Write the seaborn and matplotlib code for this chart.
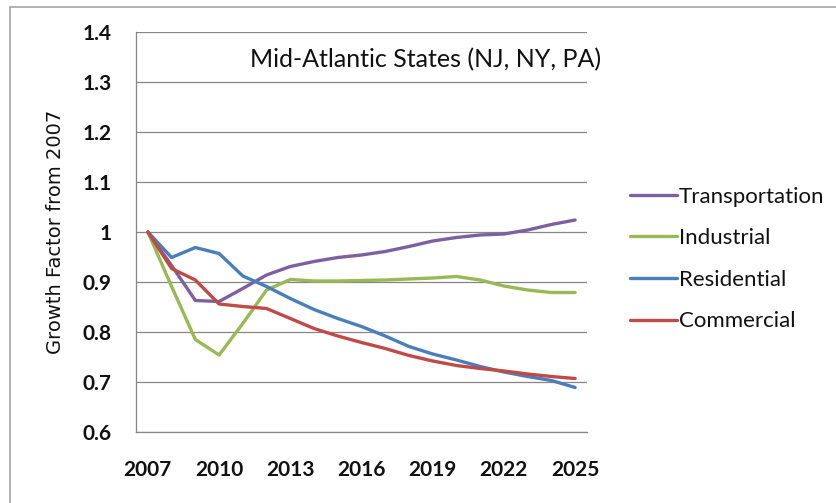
import matplotlib
matplotlib.use("Agg")
import matplotlib.pyplot as plt
from matplotlib.lines import Line2D
import seaborn as sns
import pandas as pd

# growth factor relative to 2007
years = list(range(2007, 2026))
transportation = [1.0, 0.933, 0.863, 0.861, 0.887, 0.914, 0.931, 0.941, 0.949, 0.954,
                  0.961, 0.971, 0.982, 0.989, 0.994, 0.996, 1.004, 1.015, 1.024]
industrial = [1.0, 0.891, 0.785, 0.754, 0.817, 0.884, 0.905, 0.902, 0.902, 0.903,
              0.904, 0.906, 0.908, 0.911, 0.904, 0.892, 0.884, 0.879, 0.879]
residential = [1.0, 0.949, 0.969, 0.957, 0.912, 0.891, 0.867, 0.845, 0.827, 0.811,
               0.792, 0.771, 0.756, 0.744, 0.731, 0.720, 0.711, 0.703, 0.689]
commercial = [1.0, 0.927, 0.904, 0.856, 0.851, 0.847, 0.827, 0.807, 0.792, 0.779,
              0.767, 0.753, 0.742, 0.733, 0.727, 0.722, 0.716, 0.711, 0.707]

sectors = ["Transportation", "Industrial", "Residential", "Commercial"]
colors = ["#7D60A0", "#98B954", "#4A7EBB", "#BE4B48"]
y_ticks = [0.6, 0.7, 0.8, 0.9, 1.0, 1.1, 1.2, 1.3, 1.4]
y_labels = ["0.6", "0.7", "0.8", "0.9", "1", "1.1", "1.2", "1.3", "1.4"]
x_labels = [2007, 2010, 2013, 2016, 2019, 2022, 2025]

df = pd.DataFrame({
    "year": years * 4,
    "value": transportation + industrial + residential + commercial,
    "sector": [s for s in sectors for _ in years],
})

sns.set_style("white")
plt.rcParams["font.family"] = ["Lato", "DejaVu Sans"]

fig = plt.figure(figsize=(8.36, 5.03), dpi=100)
ax = fig.add_axes([136 / 836, 71 / 503, 451 / 836, 400 / 503])

sns.lineplot(data=df, x="year", y="value", hue="sector", hue_order=sectors,
             palette=colors, linewidth=2.4, legend=False, ax=ax)

grid_col = "#868686"
ax.set_xlim(2006.5, 2025.5)
ax.set_ylim(0.6, 1.4)
ax.set_yticks(y_ticks)
ax.set_yticklabels(y_labels, fontsize=15, fontweight="bold", color="#111111")
ax.set_xticks(x_labels)
ax.set_xticklabels([str(x) for x in x_labels], fontsize=15, fontweight="bold", color="#111111")
ax.set_xticks([2006.5 + 3 * k for k in range(7)], minor=True)
ax.tick_params(axis="x", which="major", length=0, pad=20)
ax.tick_params(axis="x", which="minor", length=5.5, width=0.8, color=grid_col, direction="out")
ax.tick_params(axis="y", length=5.5, width=0.8, color=grid_col, direction="out", pad=12)
ax.yaxis.grid(True, color=grid_col, linewidth=0.9)
ax.set_axisbelow(True)
for side in ["top", "right"]:
    ax.spines[side].set_visible(False)
for side in ["left", "bottom"]:
    ax.spines[side].set_color(grid_col)
    ax.spines[side].set_linewidth(0.9)

ax.set_xlabel("")
ax.set_ylabel("Growth Factor from 2007", fontsize=14, family="DejaVu Sans", color="#111111")
ax.yaxis.set_label_coords(-0.158, 0.5)

ax.text(0.641, 0.93, "Mid-Atlantic States (NJ, NY, PA)", transform=ax.transAxes,
        ha="center", va="center", fontsize=18, color="#111111")

handles = [Line2D([], [], color=c, linewidth=2.4) for c in colors]
fig.legend(handles, sectors, loc="center left", bbox_to_anchor=(630 / 836, 1 - 259 / 503),
           frameon=False, fontsize=16, handlelength=2.1, handletextpad=0.1,
           labelspacing=0.97, borderpad=0, borderaxespad=0,
           labelcolor="#111111")

# chart-area frame (cut off on the right and bottom)
fig.add_artist(Line2D([10 / 836, 1], [1 - 7 / 503, 1 - 7 / 503], color="#A6A6A6",
                      linewidth=1.2, transform=fig.transFigure))
fig.add_artist(Line2D([10 / 836, 10 / 836], [0, 1 - 7 / 503], color="#A6A6A6",
                      linewidth=1.2, transform=fig.transFigure))

fig.savefig("out.png", dpi=100)
